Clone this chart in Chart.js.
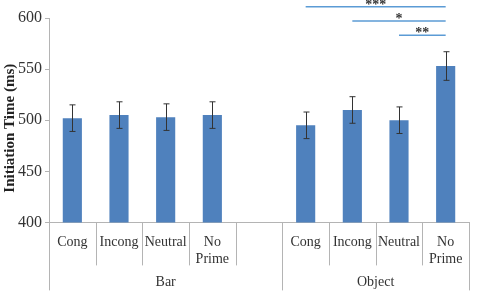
<!DOCTYPE html>
<html>
<head>
<meta charset="utf-8">
<script src="https://cdn.jsdelivr.net/npm/chart.js@4.4.1/dist/chart.umd.min.js"></script>
<style>
  html, body { margin: 0; padding: 0; background: #fff; }
  #wrap { width: 489px; height: 296px; }
</style>
</head>
<body>
<div id="wrap"><canvas id="c"></canvas></div>
<script>
/* data */
const conditions = [['Cong'], ['Incong'], ['Neutral'], ['No', 'Prime']];
const groups = ['Bar', 'Object'];
const barMeans = [502, 505, 503, 505];
const barErrors = [13, 13, 13, 13];
const objectMeans = [495, 510, 500, 553];
const objectErrors = [13, 13, 13, 14];
const yTicks = [400, 450, 500, 550, 600];
const sigLabels = ['***', '*', '**'];

/* 9 slots: 4 Bar conditions, an empty spacer, 4 Object conditions */
const labels = [...conditions, '', ...conditions];
const means = [...barMeans, null, ...objectMeans];
const errors = [...barErrors, null, ...objectErrors];
const groupSpans = [[0, 4], [5, 8]];   // slot index ranges for the group labels
const sigFrom = [5, 6, 7], sigTo = 8, sigY = [611, 597, 583];

const BLUE = '#4f81bd', AXIS = '#b4b4b4', SIG = '#5b9bd5';
const SERIF = '"Liberation Serif", "Times New Roman", serif';

const errorBars = {
  id: 'errorBars',
  afterDatasetsDraw(chart) {
    const { ctx, scales: { x, y } } = chart;
    ctx.save();
    ctx.strokeStyle = '#333';
    ctx.lineWidth = 1;
    means.forEach((m, i) => {
      if (m == null) return;
      const px = Math.round(x.getPixelForValue(i)) + 0.5;
      const hi = y.getPixelForValue(m + errors[i]), lo = y.getPixelForValue(m - errors[i]);
      ctx.beginPath();
      ctx.moveTo(px, hi); ctx.lineTo(px, lo);
      ctx.moveTo(px - 3, hi); ctx.lineTo(px + 3, hi);
      ctx.moveTo(px - 3, lo); ctx.lineTo(px + 3, lo);
      ctx.stroke();
    });
    ctx.restore();
  }
};

const decorations = {
  id: 'decorations',
  afterDraw(chart) {
    const { ctx, chartArea, scales: { x, y } } = chart;
    const half = (x.getPixelForValue(1) - x.getPixelForValue(0)) / 2;
    const base = chartArea.bottom;
    ctx.save();
    // y title
    ctx.fillStyle = '#222';
    ctx.font = 'bold 15px ' + SERIF;
    ctx.textAlign = 'center';
    ctx.textBaseline = 'middle';
    ctx.translate(10, (chartArea.top + chartArea.bottom) / 2 + 8);
    ctx.rotate(-Math.PI / 2);
    ctx.fillText('Initiation Time (ms)', 0, 0);
    ctx.setTransform(1, 0, 0, 1, 0, 0);
    // separators under the axis
    ctx.strokeStyle = AXIS;
    ctx.lineWidth = 1;
    for (let i = 0; i <= labels.length; i++) {
      const px = Math.round(x.getPixelForValue(i) - half) + 0.5;
      const edge = i === 0 || i === 5 || i === labels.length;
      ctx.beginPath();
      ctx.moveTo(px, base);
      ctx.lineTo(px, base + (edge ? 68 : 43));
      ctx.stroke();
    }
    // group labels
    ctx.fillStyle = '#333';
    ctx.font = '14px ' + SERIF;
    groupSpans.forEach(([a, b], g) => {
      const cx = (x.getPixelForValue(a) + x.getPixelForValue(b)) / 2;
      ctx.fillText(groups[g], cx, base + 60);
    });
    // significance brackets
    ctx.strokeStyle = SIG;
    ctx.lineWidth = 1.5;
    ctx.font = 'bold 14px ' + SERIF;
    ctx.textBaseline = 'alphabetic';
    sigFrom.forEach((f, k) => {
      const x1 = x.getPixelForValue(f), x2 = x.getPixelForValue(sigTo);
      const py = y.getPixelForValue(sigY[k]);
      ctx.beginPath();
      ctx.moveTo(x1, py); ctx.lineTo(x2, py);
      ctx.stroke();
      ctx.fillText(sigLabels[k], (x1 + x2) / 2, py + 2);
    });
    ctx.restore();
  }
};

new Chart(document.getElementById('c'), {
  type: 'bar',
  data: {
    labels,
    datasets: [{
      data: means,
      backgroundColor: BLUE,
      barPercentage: 0.41,
      categoryPercentage: 1
    }]
  },
  options: {
    responsive: true,
    maintainAspectRatio: false,
    animation: false,
    layout: { padding: { top: 18, right: 20, bottom: 24, left: 15 } },
    plugins: { legend: { display: false }, tooltip: { enabled: false } },
    scales: {
      x: {
        grid: { display: false },
        border: { color: AXIS },
        ticks: { color: '#333', font: { family: SERIF, size: 14 }, padding: 4, maxRotation: 0, autoSkip: false }
      },
      y: {
        min: yTicks[0], max: yTicks[yTicks.length - 1],
        afterBuildTicks: s => { s.ticks = yTicks.map(v => ({ value: v })); },
        grid: { drawOnChartArea: false, tickLength: 4, color: AXIS },
        border: { color: AXIS },
        ticks: { color: '#333', font: { family: SERIF, size: 16 }, padding: 3 }
      }
    }
  },
  plugins: [errorBars, decorations]
});
</script>
</body>
</html>
